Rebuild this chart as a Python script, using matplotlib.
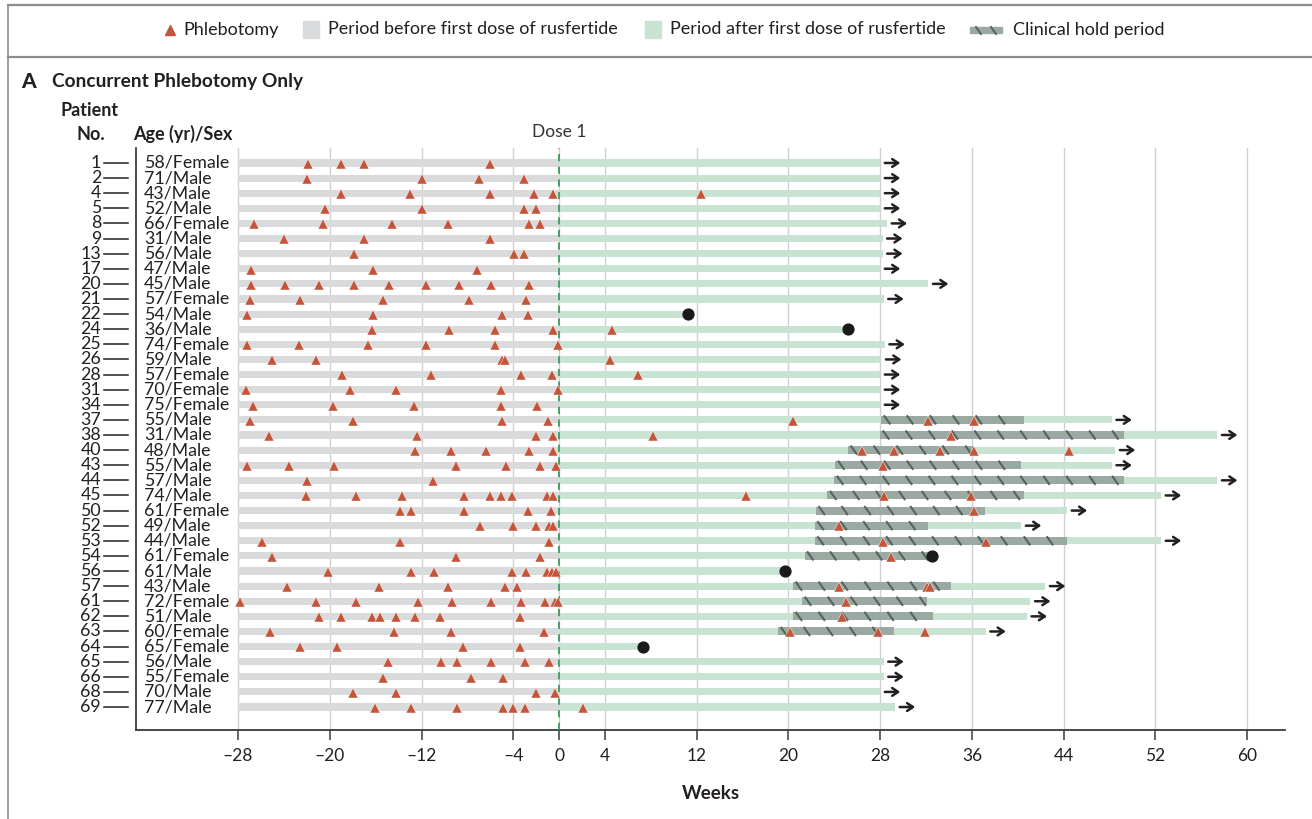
import numpy as np
import matplotlib
matplotlib.use('Agg')
import matplotlib.pyplot as plt
from matplotlib.lines import Line2D
from matplotlib.patches import Rectangle

plt.rcParams['font.family'] = ['Lato', 'DejaVu Sans']

# patients, in plotting order (top to bottom)
patient_ids = [1, 2, 4, 5, 8, 9, 13, 17, 20, 21, 22, 24, 25, 26, 28, 31, 34, 37, 38,
               40, 43, 44, 45, 50, 52, 53, 54, 56, 57, 61, 62, 63, 64, 65, 66, 68, 69]
ages = [58, 71, 43, 52, 66, 31, 56, 47, 45, 57, 54, 36, 74, 59, 57, 70, 75, 55, 31,
        48, 55, 57, 74, 61, 49, 44, 61, 61, 43, 72, 51, 60, 65, 56, 55, 70, 77]
sexes = ['Female', 'Male', 'Male', 'Male', 'Female', 'Male', 'Male', 'Male', 'Male',
         'Female', 'Male', 'Male', 'Female', 'Male', 'Female', 'Female', 'Female',
         'Male', 'Male', 'Male', 'Male', 'Male', 'Male', 'Female', 'Male', 'Male',
         'Female', 'Male', 'Male', 'Female', 'Male', 'Female', 'Female', 'Male',
         'Female', 'Male', 'Male']

# end of follow-up after first dose (weeks)
follow_end = [28.0, 28.0, 28.0, 28.0, 28.6, 28.2, 28.2, 28.0, 32.2, 28.3, 11.2, 25.2,
              28.4, 28.1, 28.0, 28.0, 28.0, 48.2, 57.4, 48.5, 48.2, 57.4, 52.5, 44.3,
              40.3, 52.5, 32.5, 19.7, 42.4, 41.1, 40.8, 37.2, 7.3, 28.3, 28.3, 28.0, 29.3]
# True = follow-up ended (dot), False = continuing (arrow)
stopped = [False] * 10 + [True, True] + [False] * 14 + [True, True] + [False] * 4 + \
          [True] + [False] * 4

# clinical hold periods (start, end) in weeks
hold = {37: (28.1, 40.5), 38: (28.0, 49.3), 40: (25.2, 36.2), 43: (24.1, 40.3),
        44: (24.0, 49.3), 45: (23.4, 40.5), 50: (22.4, 37.1), 52: (22.3, 32.2),
        53: (22.3, 44.3), 54: (21.4, 32.5), 57: (20.4, 34.2), 61: (21.2, 32.1),
        62: (20.4, 32.6), 63: (19.1, 29.2)}

# phlebotomy times (weeks relative to dose 1)
phleb = [
    [-21.9, -19.0, -17.0, -6.0],
    [-22.0, -12.0, -7.0, -3.05],
    [-19.0, -13.0, -6.0, -2.2, -0.5, 12.4],
    [-20.4, -12.0, -3.05, -2.0],
    [-26.6, -20.6, -14.6, -9.7, -2.6, -1.7],
    [-24.0, -17.0, -6.0],
    [-17.9, -3.9, -3.05],
    [-26.9, -16.2, -7.2],
    [-26.9, -23.9, -20.9, -17.9, -14.8, -11.6, -8.7, -5.9, -2.6],
    [-27.0, -22.6, -15.4, -7.9, -2.85],
    [-27.2, -16.2, -5.0, -2.7],
    [-16.3, -9.6, -5.6, -0.5, 4.6],
    [-27.2, -22.7, -16.7, -11.6, -5.6, -0.1],
    [-25.0, -21.2, -5.0, -4.7, 4.45],
    [-18.9, -11.2, -3.3, -0.6, 6.9],
    [-27.3, -18.2, -14.2, -5.1, -0.1],
    [-26.7, -19.7, -12.7, -5.1, -1.9],
    [-27.0, -18.0, -5.0, -1.0, 20.4, 32.2, 36.2],
    [-25.3, -12.4, -2.0, -0.5, 8.2, 34.2],
    [-12.6, -9.4, -6.4, -2.6, -0.5, 26.4, 29.2, 33.2, 36.2, 44.5],
    [-27.2, -23.6, -19.6, -9.0, -4.6, -1.7, -0.3, 28.2],
    [-22.0, -11.0],
    [-22.1, -17.7, -13.7, -8.3, -6.0, -5.1, -4.1, -1.1, -0.5, 16.3, 28.3, 35.9],
    [-13.9, -12.9, -8.3, -2.7, -0.7, 36.2],
    [-6.9, -4.0, -2.0, -0.9, -0.5, 24.4],
    [-25.9, -13.9, -0.9, 28.2, 37.2],
    [-25.0, -9.0, -1.7, 28.9],
    [-20.2, -12.9, -10.9, -4.1, -2.85, -1.1, -0.6, -0.3],
    [-23.7, -15.7, -9.7, -4.7, -3.7, 24.4, 32.1, 32.3],
    [-27.8, -21.2, -17.7, -12.3, -9.3, -5.9, -3.3, -1.2, -0.4, -0.1, 25.0],
    [-20.9, -19.0, -16.3, -15.6, -14.2, -12.6, -10.4, -3.4, 24.7],
    [-25.2, -14.4, -9.4, -1.3, 20.1, 27.8, 31.9],
    [-22.6, -19.4, -8.4, -3.4],
    [-14.9, -10.3, -8.9, -5.9, -3.0, -0.9],
    [-15.4, -7.7, -4.9],
    [-18.0, -14.2, -2.0, -0.4],
    [-16.1, -12.9, -8.9, -4.9, -4.0, -3.0, 2.1],
]

week_ticks = [-28, -20, -12, -4, 0, 4, 12, 20, 28, 36, 44, 52, 60]
pre_start = -28

C_PRE = '#d9dadc'
C_POST = '#c9e3d3'
C_HOLD = '#9aaaa2'
C_HOLD_TICK = '#56645d'
C_PHLEB = '#c4553a'
C_DOSE = '#3d9a5f'
C_TXT = '#231f20'

W, H = 1312, 819
fig = plt.figure(figsize=(W / 100, H / 100), dpi=100)


def fx(px):
    return px / W


def fy(py):
    return 1 - py / H


ax = fig.add_axes([fx(136), fy(730), fx(1285) - fx(136), fy(148) - fy(730)])

n = len(patient_ids)
rows = np.arange(n)
bar_h = 0.47

ax.barh(rows, [0 - pre_start] * n, left=pre_start, height=bar_h, color=C_PRE, zorder=2)
ax.barh(rows, follow_end, left=0, height=bar_h, color=C_POST, zorder=2)

# clinical hold: darker bar with short slanted dashes every 2 weeks
for i, pid in enumerate(patient_ids):
    if pid not in hold:
        continue
    s, e = hold[pid]
    ax.barh(i, e - s, left=s, height=bar_h + 0.06, color=C_HOLD, zorder=3)
    t = s + 0.5
    while t < e - 0.2:
        ax.plot([t - 0.28, t + 0.28], [i - 0.3, i + 0.3], color=C_HOLD_TICK,
                lw=1.5, solid_capstyle='butt', zorder=4)
        t += 2.0

ax.axvline(0, color=C_DOSE, lw=1.3, ls=(0, (4, 3)), zorder=5)

for i, weeks in enumerate(phleb):
    ax.plot(weeks, [i + 0.05] * len(weeks), ls='none', marker='^', ms=7,
            color=C_PHLEB, mec='white', mew=0.3, zorder=6)

for i in rows:
    end = follow_end[i]
    if stopped[i]:
        ax.plot(end, i, marker='o', ms=7.8, color='#1a1a1a', zorder=7)
    else:
        ax.annotate('', xy=(end + 1.75, i), xytext=(end + 0.4, i),
                    arrowprops=dict(arrowstyle='->,head_length=0.42,head_width=0.28',
                                    color=C_TXT, lw=1.8, shrinkA=0, shrinkB=0),
                    zorder=7)

ax.set_xlim(-36.9, 63.3)
ax.set_ylim(n - 1 + 1.52, -0.99)
ax.set_xticks(week_ticks)
ax.set_xticklabels([str(w).replace('-', '\u2013') for w in week_ticks])
ax.set_yticks([])
ax.grid(axis='x', color='#cfd0d2', lw=1.0)
ax.set_axisbelow(True)
for side in ['top', 'right']:
    ax.spines[side].set_visible(False)
for side in ['left', 'bottom']:
    ax.spines[side].set_color('#3a3a3a')
    ax.spines[side].set_linewidth(1.3)
ax.tick_params(axis='x', length=7, width=1.1, color='#3a3a3a', labelsize=12.5,
               labelcolor=C_TXT, pad=6)
ax.set_xlabel('Weeks', fontsize=13.5, fontweight='bold', color=C_TXT, labelpad=15)

# row labels
ytr = ax.get_yaxis_transform()
for i in rows:
    ax.text(-36.2, i, f'{ages[i]}/{sexes[i]}', ha='left', va='center',
            fontsize=12.8, color=C_TXT, zorder=8)
    ax.text((101 - 136) / 1149, i, str(patient_ids[i]), transform=ytr, ha='right',
            va='center', fontsize=12.8, color=C_TXT, clip_on=False)
    ax.plot([(104 - 136) / 1149, (128 - 136) / 1149], [i, i], transform=ytr,
            color=C_TXT, lw=1.1, clip_on=False)

ax.text(0, -2.05, 'Dose 1', ha='center', va='center', fontsize=12.5,
        color='#333333', clip_on=False)

# headings
fig.text(fx(21), fy(81), 'A', fontsize=15, fontweight='black', color=C_TXT,
         ha='left', va='center')
fig.text(fx(52), fy(81), 'Concurrent Phlebotomy Only', fontsize=13.8,
         fontweight='bold', color=C_TXT, ha='left', va='center')
fig.text(fx(90), fy(110), 'Patient', fontsize=13, fontweight='bold', color=C_TXT,
         ha='center', va='center')
fig.text(fx(91), fy(134), 'No.', fontsize=13, fontweight='bold', color=C_TXT,
         ha='center', va='center')
fig.text(fx(133), fy(134), 'Age (yr)/Sex', fontsize=13, fontweight='bold',
         color=C_TXT, ha='left', va='center')

# frame lines around the legend band and panel
frame_c = '#8c8c8c'
fig.add_artist(Line2D([fx(8), 1], [fy(5), fy(5)], color=frame_c, lw=1.6))
fig.add_artist(Line2D([fx(8), 1], [fy(57), fy(57)], color=frame_c, lw=1.6))
fig.add_artist(Line2D([fx(8), fx(8)], [fy(5), 0], color=frame_c, lw=1.2))

# legend
ly = fy(29.5)
leg_fs = 13
fig.add_artist(Line2D([fx(170)], [ly], marker='^', ms=7, color=C_PHLEB, ls='none'))
fig.text(fx(183), ly, 'Phlebotomy', fontsize=leg_fs, color=C_TXT, va='center')
fig.add_artist(Rectangle((fx(303), fy(37.5)), fx(16), 16 / H, color=C_PRE))
fig.text(fx(328), ly, 'Period before first dose of rusfertide', fontsize=leg_fs,
         color=C_TXT, va='center')
fig.add_artist(Rectangle((fx(645), fy(37.5)), fx(16), 16 / H, color=C_POST))
fig.text(fx(670), ly, 'Period after first dose of rusfertide', fontsize=leg_fs,
         color=C_TXT, va='center')
fig.add_artist(Rectangle((fx(970), fy(32.5)), fx(32), 6 / H, color=C_HOLD))
for tx in [976, 991]:
    fig.add_artist(Line2D([fx(tx), fx(tx + 5)], [fy(27), fy(34)],
                          color=C_HOLD_TICK, lw=1.4))
fig.text(fx(1013), ly, 'Clinical hold period', fontsize=leg_fs, color=C_TXT,
         va='center')

fig.savefig('out.png', dpi=100)
